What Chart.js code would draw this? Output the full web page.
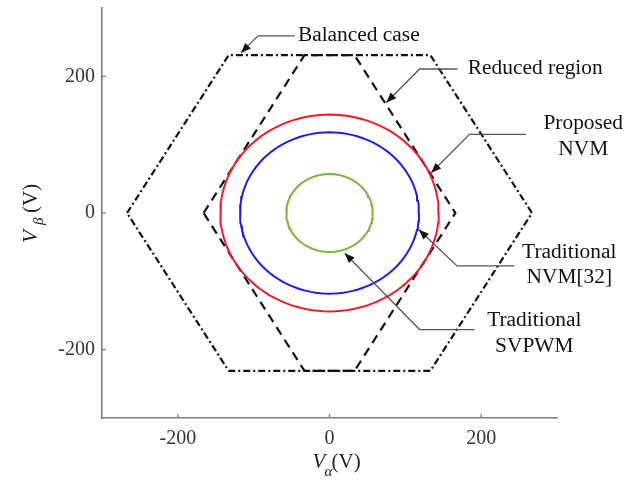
<!DOCTYPE html>
<html>
<head>
<meta charset="utf-8">
<script src="https://cdn.jsdelivr.net/npm/chart.js@4/dist/chart.umd.min.js"></script>
<style>
  html, body { margin: 0; padding: 0; background: #fff; }
  canvas { display: block; }
</style>
</head>
<body>
<canvas id="c" width="642" height="482"></canvas>
<script>
// Tick values on both axes (V)
const xTicks = [-200, 0, 200];
const yTicks = [-200, 0, 200];

// Voltage limit hexagon for the balanced case (alpha / beta vertices, closed)
const balancedAlpha = [-267, -133, 133, 267, 133, -133, -267];
const balancedBeta  = [0, 231, 231, 0, -231, -231, 0];

// Reduced linear region (alpha / beta vertices, closed)
const reducedAlpha = [-166, -33, 33, 166, 33, -33, -166];
const reducedBeta  = [0, 231, 231, 0, -231, -231, 0];

// Circular reference-vector trajectories: name and radius (V)
const trajectoryNames  = ['Proposed NVM', 'Traditional NVM[32]', 'Traditional SVPWM'];
const trajectoryRadius = [144, 118, 57];

// Callout texts
const noteTexts = [
  ['Balanced case'],
  ['Reduced region'],
  ['Proposed', 'NVM'],
  ['Traditional', 'NVM[32]'],
  ['Traditional', 'SVPWM']
];

// Callout placement in (Valpha, Vbeta) units: text anchor, line spacing, leader path ending at the arrow tip
const noteLayout = [
  { align: 'left',   text: [-41.7, 259.3], dy: 0,    path: [[-45.7, 259.3], [-94.3, 259.3], [-116.7, 234.3]] },
  { align: 'left',   text: [182.4, 210.7], dy: 0,    path: [[168.8, 210.7], [118.8, 210.7], [75, 161.8]] },
  { align: 'center', text: [334.6, 129.9], dy: 37.8, path: [[259.2, 115.1], [184.6, 115.1], [134.2, 58.8]] },
  { align: 'center', text: [316.2, -58.8], dy: 36.8, path: [[243.8, -77.5], [168.2, -77.5], [117.9, -24.6]] },
  { align: 'center', text: [270.1, -157.9], dy: 38.7, path: [[191.2, -170.6], [118.8, -170.6], [20.1, -58.8]] }
];

function polygon(xs, ys) {
  return xs.map((x, i) => ({ x: x, y: ys[i] }));
}

// Points along a circle of radius r centred on the origin
function circleTrace(r) {
  const pts = [];
  for (let a = 0; a <= 360; a += 3) {
    const t = a * Math.PI / 180;
    pts.push({ x: r * Math.cos(t), y: r * Math.sin(t) });
  }
  return pts;
}

const trajectoryColors = ['#ee1c25', '#1d1de6', '#77b53d'];

const serif = 'Liberation Serif, Times New Roman, serif';

const datasets = [];
trajectoryNames.forEach((name, i) => {
  datasets.push({
    label: name,
    data: circleTrace(trajectoryRadius[i]),
    showLine: true, pointRadius: 0, borderWidth: 2,
    borderColor: trajectoryColors[i], fill: false, tension: 0
  });
});
datasets.push({
  label: 'Reduced region',
  data: polygon(reducedAlpha, reducedBeta),
  showLine: true, pointRadius: 0, borderWidth: 2.2,
  borderColor: '#111', borderDash: [9, 6], fill: false, tension: 0
});
datasets.push({
  label: 'Balanced case',
  data: polygon(balancedAlpha, balancedBeta),
  showLine: true, pointRadius: 0, borderWidth: 2.2,
  borderColor: '#111', borderDash: [7, 3, 2, 3], fill: false, tension: 0
});

// Inward tick marks, axis titles with subscripts, and callouts
const decorations = {
  id: 'decorations',
  afterDraw(chart) {
    const ctx = chart.ctx;
    const sx = chart.scales.x, sy = chart.scales.y;
    const area = chart.chartArea;
    ctx.save();

    // tick marks pointing into the plot
    ctx.strokeStyle = '#7f7f7f';
    ctx.lineWidth = 1.3;
    xTicks.forEach(v => {
      const p = sx.getPixelForValue(v);
      ctx.beginPath(); ctx.moveTo(p, area.bottom); ctx.lineTo(p, area.bottom - 4); ctx.stroke();
    });
    yTicks.forEach(v => {
      const p = sy.getPixelForValue(v);
      ctx.beginPath(); ctx.moveTo(area.left, p); ctx.lineTo(area.left + 4, p); ctx.stroke();
    });

    // axis titles
    ctx.fillStyle = '#222';
    ctx.textBaseline = 'alphabetic';
    ctx.textAlign = 'left';
    const bx = sx.getPixelForValue(0) - 17, by = 468;
    ctx.font = 'italic 21px ' + serif;
    ctx.fillText('V', bx, by);
    ctx.font = 'italic 15px ' + serif;
    ctx.fillText('α', bx + 12, by + 8);
    ctx.font = '21px ' + serif;
    ctx.fillText('(V)', bx + 19, by);

    ctx.save();
    ctx.translate(37, sy.getPixelForValue(0) + 30);
    ctx.rotate(-Math.PI / 2);
    ctx.font = 'italic 21px ' + serif;
    ctx.fillText('V', 0, 0);
    ctx.font = 'italic 15px ' + serif;
    ctx.fillText('β', 18, 6);
    ctx.font = '21px ' + serif;
    ctx.fillText('(V)', 30, 0);
    ctx.restore();

    // callouts
    noteLayout.forEach((n, i) => {
      const pts = n.path.map(p => [sx.getPixelForValue(p[0]), sy.getPixelForValue(p[1])]);
      ctx.strokeStyle = '#555';
      ctx.lineWidth = 1.3;
      ctx.beginPath();
      ctx.moveTo(pts[0][0], pts[0][1]);
      for (let k = 1; k < pts.length; k++) ctx.lineTo(pts[k][0], pts[k][1]);
      ctx.stroke();
      const tip = pts[pts.length - 1], prev = pts[pts.length - 2];
      const ang = Math.atan2(tip[1] - prev[1], tip[0] - prev[0]);
      ctx.fillStyle = '#111';
      ctx.beginPath();
      ctx.moveTo(tip[0], tip[1]);
      ctx.lineTo(tip[0] - 10 * Math.cos(ang) + 4 * Math.sin(ang), tip[1] - 10 * Math.sin(ang) - 4 * Math.cos(ang));
      ctx.lineTo(tip[0] - 10 * Math.cos(ang) - 4 * Math.sin(ang), tip[1] - 10 * Math.sin(ang) + 4 * Math.cos(ang));
      ctx.closePath();
      ctx.fill();

      ctx.font = '20px ' + serif;
      ctx.textAlign = 'left';
      ctx.textBaseline = 'middle';
      const tx = sx.getPixelForValue(n.text[0]);
      const ty = sy.getPixelForValue(n.text[1]);
      const stretch = 1.07;
      noteTexts[i].forEach((line, j) => {
        const w = ctx.measureText(line).width * stretch;
        const left = n.align === 'center' ? tx - w / 2 : tx;
        ctx.save();
        ctx.translate(left, ty + j * n.dy * 0.68);
        ctx.scale(stretch, 1);
        ctx.fillText(line, 0, 0);
        ctx.restore();
      });
    });
    ctx.restore();
  }
};

new Chart(document.getElementById('c'), {
  type: 'scatter',
  data: { datasets: datasets },
  options: {
    responsive: false,
    animation: false,
    layout: { padding: { top: 8, right: 85, left: 0, bottom: 0 } },
    plugins: { legend: { display: false }, tooltip: { enabled: false } },
    scales: {
      x: {
        type: 'linear', min: -300, max: 300,
        afterBuildTicks: s => { s.ticks = xTicks.map(v => ({ value: v })); },
        afterFit: s => { s.height = 64; s.paddingLeft = 0; s.paddingRight = 0; },
        grid: { display: false, drawTicks: false },
        border: { display: true, color: '#7f7f7f', width: 1.6 },
        ticks: { padding: 9, color: '#333', font: { family: serif, size: 20 } }
      },
      y: {
        type: 'linear', min: -300, max: 300,
        afterBuildTicks: s => { s.ticks = yTicks.map(v => ({ value: v })); },
        afterFit: s => { s.width = 102; s.paddingTop = 0; s.paddingBottom = 0; },
        grid: { display: false, drawTicks: false },
        border: { display: true, color: '#7f7f7f', width: 1.6 },
        ticks: { padding: 7, color: '#333', font: { family: serif, size: 20 } }
      }
    }
  },
  plugins: [decorations]
});
</script>
</body>
</html>
